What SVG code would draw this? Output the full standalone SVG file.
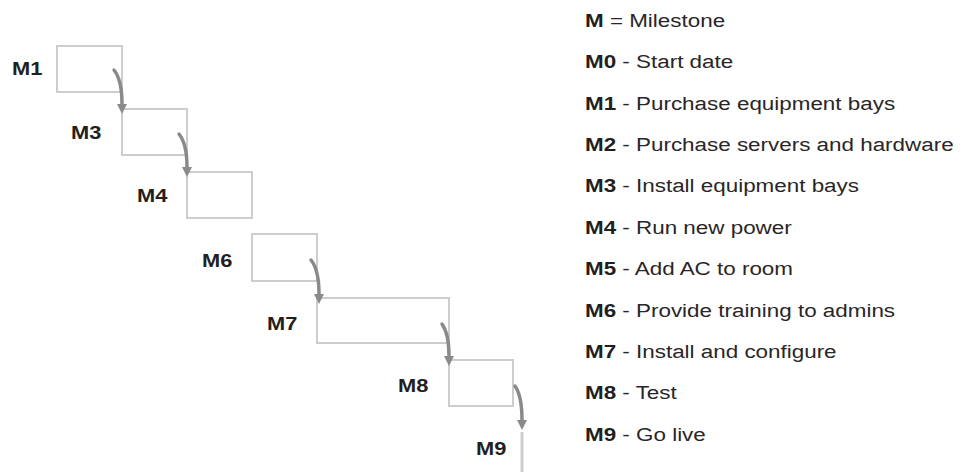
<svg xmlns="http://www.w3.org/2000/svg" width="964" height="472" viewBox="0 0 964 472">
<defs>
<style>
.box{fill:none;stroke:#cdcdcf;stroke-width:2}
.lbl{font-family:"Liberation Sans",Arial,sans-serif;font-weight:bold;font-size:19px;fill:#231f20}
.leg{font-family:"Liberation Sans",Arial,sans-serif;font-size:19px;fill:#2a2627}
.leg .b{font-weight:bold;fill:#231f20}
.arr{fill:none;stroke:#8a8a8d;stroke-width:3.5;stroke-linecap:round}
.head{fill:#8a8a8d}
</style>
</defs>
<rect width="964" height="472" fill="#ffffff"/>
<g id="m1"><rect class="box" x="57" y="46" width="65" height="46"/><text class="lbl" transform="translate(12,75) scale(1.15,1)">M1</text></g>
<g id="m3"><rect class="box" x="122" y="109" width="65" height="46"/><text class="lbl" transform="translate(71,139) scale(1.15,1)">M3</text></g>
<g id="m4"><rect class="box" x="187" y="172" width="65" height="46"/><text class="lbl" transform="translate(137,202) scale(1.15,1)">M4</text></g>
<g id="m6"><rect class="box" x="252" y="234" width="65" height="47"/><text class="lbl" transform="translate(202,267) scale(1.15,1)">M6</text></g>
<g id="m7"><rect class="box" x="317" y="298" width="132" height="45"/><text class="lbl" transform="translate(267,330) scale(1.15,1)">M7</text></g>
<g id="m8"><rect class="box" x="449" y="360" width="64" height="46"/><text class="lbl" transform="translate(398,392) scale(1.15,1)">M8</text></g>
<g id="m9"><line x1="522" y1="432" x2="522" y2="472" stroke="#cdcdcf" stroke-width="3"/><text class="lbl" transform="translate(476,455) scale(1.15,1)">M9</text></g>
<g id="connectors">
<path class="arr" d="M114,70 Q122,80 122,104"/><polygon class="head" points="117,104 127,104 122,114"/>
<path class="arr" d="M179,134 Q187,144 187,167"/><polygon class="head" points="182,167 192,167 187,177"/>
<path class="arr" d="M311,260 Q319,270 319,294"/><polygon class="head" points="314,294 324,294 319,304"/>
<path class="arr" d="M442,324 Q449,334 449,356"/><polygon class="head" points="444,356 454,356 449,366"/>
<path class="arr" d="M515,386 Q522,396 522,420"/><polygon class="head" points="517,420 527,420 522,430"/>
</g>
<g id="legend" class="leg" transform="translate(585,0) scale(1.18,1)">
<text x="0" y="27"><tspan class="b">M</tspan> = Milestone</text>
<text x="0" y="68"><tspan class="b">M0</tspan> - Start date</text>
<text x="0" y="110"><tspan class="b">M1</tspan> - Purchase equipment bays</text>
<text x="0" y="151"><tspan class="b">M2</tspan> - Purchase servers and hardware</text>
<text x="0" y="192"><tspan class="b">M3</tspan> - Install equipment bays</text>
<text x="0" y="234"><tspan class="b">M4</tspan> - Run new power</text>
<text x="0" y="275"><tspan class="b">M5</tspan> - Add AC to room</text>
<text x="0" y="317"><tspan class="b">M6</tspan> - Provide training to admins</text>
<text x="0" y="358"><tspan class="b">M7</tspan> - Install and configure</text>
<text x="0" y="399"><tspan class="b">M8</tspan> - Test</text>
<text x="0" y="441"><tspan class="b">M9</tspan> - Go live</text>
</g>
</svg>
